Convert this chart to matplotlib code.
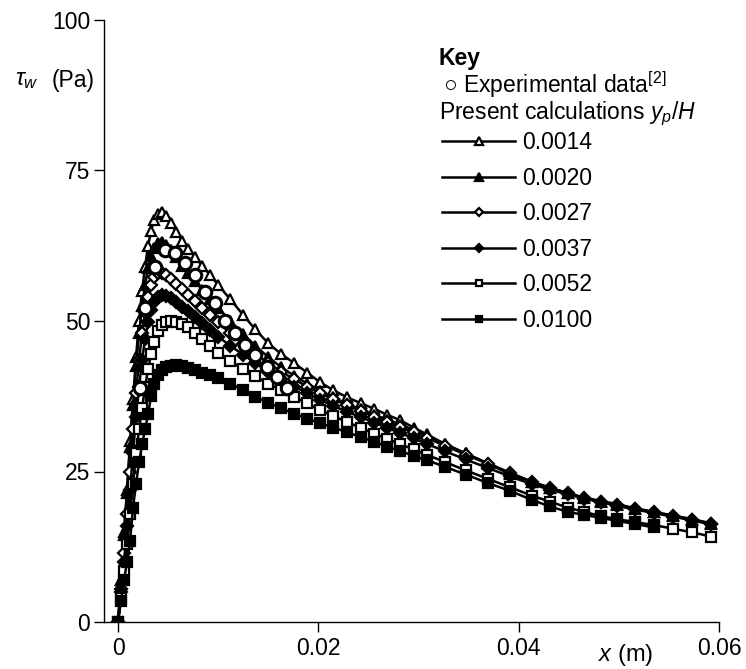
import matplotlib
matplotlib.use('Agg')
import matplotlib.pyplot as plt

plt.rcParams['font.family'] = ['Liberation Sans', 'DejaVu Sans']
plt.rcParams['mathtext.fontset'] = 'custom'
plt.rcParams['mathtext.rm'] = 'Liberation Sans'
plt.rcParams['mathtext.it'] = 'Liberation Sans:italic'
plt.rcParams['mathtext.bf'] = 'Liberation Sans:bold'

# ---------------- data ----------------
x_calc = [0.0000, 0.0003, 0.0006, 0.0009, 0.0012, 0.0015, 0.0018, 0.0021, 0.0024, 0.0027,
          0.0030, 0.0033, 0.0036, 0.0040, 0.0044, 0.0048, 0.0053, 0.0058, 0.0064, 0.0070,
          0.0077, 0.0084, 0.0092, 0.0100, 0.0112, 0.0125, 0.0137, 0.0150, 0.0163, 0.0176,
          0.0189, 0.0202, 0.0215, 0.0229, 0.0243, 0.0256, 0.0269, 0.0282, 0.0295, 0.0308,
          0.0326, 0.0347, 0.0369, 0.0391, 0.0413, 0.0431, 0.0449, 0.0465, 0.0482, 0.0498,
          0.0516, 0.0535, 0.0554, 0.0573, 0.0592]

tau_0014 = [0, 7, 15, 22, 30, 37, 44, 50, 55, 59,
            62.5, 65, 66.8, 67.8, 68.1, 67.5, 66.3, 64.8, 63.3, 62.0,
            60.6, 59.2, 57.6, 56.0, 53.6, 51.0, 48.6, 46.3, 44.5, 43.0,
            41.4, 39.8, 38.5, 37.3, 36.3, 35.4, 34.4, 33.5, 32.3, 31.2,
            29.6, 28.0, 26.3, 24.6, 23.2, 22.3, 21.4, 20.7, 20.1, 19.6,
            18.9, 18.3, 17.7, 17.1, 16.4]

tau_0020 = [0, 7, 14.5, 21.5, 29, 36, 42.5, 48, 52.5, 56,
            58.8, 60.8, 62.2, 63.0, 63.1, 62.7, 61.8, 60.6, 59.2, 58.0,
            56.6, 55.2, 53.7, 52.2, 50.0, 47.8, 45.9, 44.0, 42.3, 40.9,
            39.6, 38.4, 37.3, 36.2, 35.3, 34.4, 33.6, 32.8, 31.9, 31.0,
            29.6, 28.0, 26.4, 24.8, 23.3, 22.3, 21.4, 20.6, 20.0, 19.4,
            18.8, 18.2, 17.6, 17.0, 16.3]

tau_0027 = [0, 5.5, 11.5, 18, 25, 32, 38, 43.5, 48, 51.5,
            54, 56, 57.3, 57.9, 58.0, 57.7, 57.0, 56.2, 55.3, 54.4,
            53.3, 52.2, 51.0, 49.8, 48.0, 46.2, 44.6, 43.0, 41.6, 40.3,
            39.1, 38.0, 37.0, 36.0, 35.0, 34.1, 33.2, 32.4, 31.5, 30.6,
            29.3, 27.8, 26.3, 24.8, 23.3, 22.3, 21.4, 20.6, 20.0, 19.4,
            18.8, 18.2, 17.6, 17.0, 16.3]

tau_0037 = [0, 5, 10, 16, 22, 28, 34, 39, 43.5, 47,
            49.8, 51.8, 53.2, 54.0, 54.3, 54.2, 53.8, 53.2, 52.4, 51.6,
            50.6, 49.6, 48.5, 47.4, 45.9, 44.4, 43.0, 41.6, 40.3, 39.1,
            38.0, 36.9, 35.9, 34.9, 34.0, 33.1, 32.2, 31.4, 30.5, 29.6,
            28.4, 27.0, 25.6, 24.2, 22.9, 22.0, 21.2, 20.5, 19.9, 19.3,
            18.7, 18.1, 17.5, 16.9, 16.2]

tau_0052 = [0, 4, 8.5, 13, 18, 23, 28, 32, 35.5, 39,
            42, 44.5, 46.5, 48.3, 49.3, 49.8, 50.0, 49.9, 49.5, 49.0,
            48.0, 47.0, 45.8, 44.7, 43.3, 42.0, 40.8, 39.6, 38.5, 37.4,
            36.3, 35.2, 34.2, 33.2, 32.2, 31.3, 30.4, 29.5, 28.7, 27.8,
            26.6, 25.2, 23.8, 22.4, 21.0, 20.0, 19.0, 18.3, 17.6, 17.1,
            16.6, 16.1, 15.5, 14.9, 14.2]

tau_0100 = [0, 3.5, 7, 10, 13.5, 19, 23, 26.5, 29.5, 32,
            34.5, 37.5, 39.5, 41, 41.8, 42.3, 42.6, 42.7, 42.5, 42.2,
            41.8, 41.4, 41.0, 40.5, 39.6, 38.5, 37.4, 36.4, 35.5, 34.6,
            33.8, 33.0, 32.3, 31.5, 30.7, 29.9, 29.1, 28.4, 27.6, 26.9,
            25.8, 24.5, 23.1, 21.8, 20.3, 19.2, 18.3, 17.8, 17.3, 16.8,
            16.3, 15.7]

x_exp = [0.0022, 0.0027, 0.0037, 0.0047, 0.0057, 0.0067, 0.0077, 0.0087, 0.0097, 0.0107,
         0.0117, 0.0127, 0.0137, 0.0149, 0.0159, 0.0169]
tau_exp = [38.9, 52.2, 59.0, 61.8, 61.3, 59.6, 57.6, 54.8, 53.0, 50.0,
           48.0, 46.0, 44.4, 42.4, 40.7, 38.9]

labels = ['0.0014', '0.0020', '0.0027', '0.0037', '0.0052', '0.0100']
series = [tau_0014, tau_0020, tau_0027, tau_0037, tau_0052, tau_0100]
markers = ['^', '^', 'D', 'D', 's', 's']
faces = ['white', 'black', 'white', 'black', 'white', 'black']
msizes = [7.5, 7.5, 5.8, 5.8, 6.5, 6.5]

# ---------------- figure ----------------
W, H = 746, 669
fig = plt.figure(figsize=(W / 100, H / 100), dpi=100)
ax = fig.add_axes([104 / W, 47 / H, 615 / W, 602 / H])

handles = []
for ys, lab, m, fc, ms in zip(series, labels, markers, faces, msizes):
    h, = ax.plot(x_calc[:len(ys)], ys, color='black', lw=1.8, marker=m, ms=ms,
                 mfc=fc, mec='black', mew=1.6, label=lab, zorder=2)
    handles.append(h)

ax.plot(x_exp, tau_exp, ls='none', marker='o', ms=9, mfc='white', mec='black',
        mew=2.2, zorder=4)

ax.set_xlim(-0.0014, 0.06)
ax.set_ylim(0, 100)
ax.set_xticks([0, 0.02, 0.04, 0.06])
ax.set_xticklabels(['0', '0.02', '0.04', '0.06'])
ax.set_yticks([0, 25, 50, 75, 100])
ax.spines['top'].set_visible(False)
ax.spines['right'].set_visible(False)
for s in ('left', 'bottom'):
    ax.spines[s].set_linewidth(1.0)
ax.tick_params(axis='both', direction='out', length=7, width=1.0, labelsize=16.5)
ax.tick_params(axis='y', pad=3)
ax.tick_params(axis='x', pad=4)


def px(x, y):
    return x / W, 1 - y / H


fig.text(*px(15, 80), r'$\tau_w$', fontsize=17, ha='left', va='center')
fig.text(*px(52, 80), '(Pa)', fontsize=16.5, ha='left', va='center')
fig.text(*px(598, 655), r'$x$ (m)', fontsize=17, ha='left', va='center')

fig.text(*px(439, 58), 'Key', fontsize=16.5, fontweight='bold', ha='left', va='center')
fig.text(*px(443, 85), '\u25cb Experimental data$^{[2]}$', fontsize=16.5,
         ha='left', va='center')
fig.text(*px(439, 114), 'Present calculations $y_p/H$', fontsize=16.5,
         ha='left', va='center')

leg = ax.legend(handles=handles, labels=labels, loc='upper left',
                bbox_to_anchor=px(442, 131), bbox_transform=fig.transFigure,
                frameon=False, fontsize=16.5, handlelength=3.2, handletextpad=0.3,
                labelspacing=0.55, markerscale=0.72, borderpad=0, borderaxespad=0)

fig.savefig('out.png', dpi=100)
